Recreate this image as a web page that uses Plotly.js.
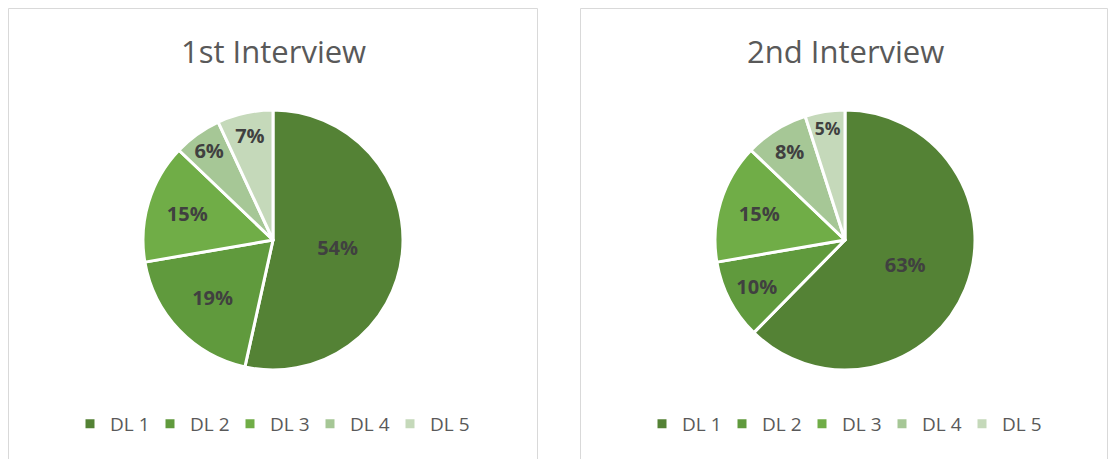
<!DOCTYPE html>
<html>
<head>
<meta charset="utf-8">
<script src="https://cdn.plot.ly/plotly-3.0.1.min.js"></script>
<style>
html,body{margin:0;padding:0;background:#fff;}
#wrap{position:relative;width:1109px;height:459px;overflow:hidden;}
#c1{position:absolute;left:0;top:0;width:554px;height:459px;}
#c2{position:absolute;left:554px;top:0;width:555px;height:459px;}
</style>
</head>
<body>
<div id="wrap"><div id="c1"></div><div id="c2"></div></div>
<script>
// ---- data ----
const categories = ["DL 1", "DL 2", "DL 3", "DL 4", "DL 5"];
const interview1 = [54, 19, 15, 6, 7];
const interview2 = [63, 10, 15, 8, 5];
const chartTitles = ["1st Interview", "2nd Interview"];
const sliceColors = ["#548235", "#609A3D", "#70AD47", "#A6C796", "#C5D9BA"];

const H = 459;
const FONT = "Open Sans, sans-serif";

function drawPanel(divId, W, values, title, pieX, borderX, legendX) {
  const px = v => v / W;
  const py = v => 1 - v / H;
  const trace = {
    type: "pie",
    labels: categories,
    values: values,
    sort: false,
    direction: "clockwise",
    rotation: 0,
    domain: {x: [px(pieX - 130), px(pieX + 130)], y: [py(370), py(110)]},
    marker: {colors: sliceColors, line: {color: "#ffffff", width: 3}},
    texttemplate: "%{value}%",
    textposition: "inside",
    insidetextorientation: "horizontal",
    textfont: {family: FONT, size: 20, color: "#404040", weight: "bold"},
    hoverinfo: "label+value",
    showlegend: true
  };
  const layout = {
    width: W, height: H,
    margin: {l: 0, r: 0, t: 0, b: 0},
    paper_bgcolor: "#ffffff",
    showlegend: true,
    legend: {
      orientation: "h", x: px(legendX), y: py(424), xanchor: "left", yanchor: "middle",
      font: {family: FONT, size: 19, color: "#595959"},
      entrywidth: 35, traceorder: "normal", bgcolor: "rgba(0,0,0,0)"
    },
    shapes: [
      {type: "rect", xref: "paper", yref: "paper", x0: px(borderX[0]), x1: px(borderX[1]), y0: -0.02, y1: py(8.5),
       line: {color: "#D9D9D9", width: 1}}
    ],
    annotations: [
      {text: title, xref: "paper", yref: "paper", x: px(pieX), y: py(51), xanchor: "center", yanchor: "middle",
       showarrow: false, font: {family: FONT, size: 31, color: "#595959"}}
    ]
  };
  Plotly.newPlot(divId, [trace], layout, {displayModeBar: false, staticPlot: true});
}

drawPanel("c1", 554, interview1, chartTitles[0], 273, [8.5, 537.5], 70);
drawPanel("c2", 555, interview2, chartTitles[1], 291, [26.5, 553.5], 88);
</script>
</body>
</html>
